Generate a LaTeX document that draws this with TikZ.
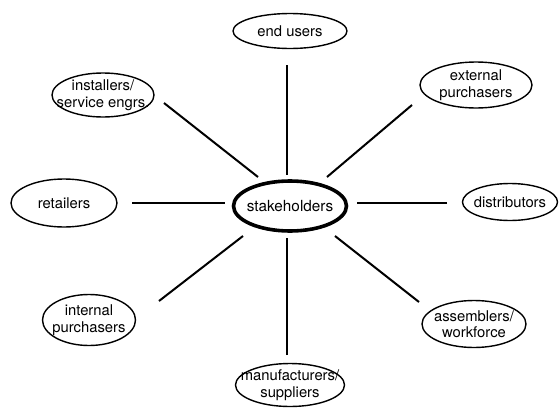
\documentclass[tikz,border=0pt]{standalone}
\usepackage{fontspec}
\setmainfont{TeX Gyre Heros}
\usetikzlibrary{shapes.geometric}
\begin{document}
\begin{tikzpicture}[x=1pt,y=-1pt,
  party/.style={ellipse,draw,line width=1.4pt,inner xsep=-40pt,inner ysep=-30pt,align=center,
    font=\fontsize{14.8}{16.5}\selectfont},
  hub/.style={ellipse,draw,line width=3.6pt,inner xsep=-40pt,inner ysep=-30pt,align=center,
    font=\fontsize{15.3}{17}\selectfont},
  link/.style={line width=2pt}]
\useasboundingbox (0,0) rectangle (560,410);
\node[hub,minimum width=113pt,minimum height=50pt] (S) at (290,206) {stakeholders};
\node[party,minimum width=114pt,minimum height=35pt] (eu) at (290,31) {end users};
\node[party,minimum width=112pt,minimum height=46pt] (ep) at (476,85) {external\\purchasers};
\node[party,minimum width=102pt,minimum height=44pt] (is) at (103,95) {installers/\\service engrs.};
\node[party,minimum width=106pt,minimum height=48pt] (rt) at (64,203) {retailers};
\node[party,minimum width=95pt,minimum height=37pt] (ds) at (510,202) {distributors};
\node[party,minimum width=93pt,minimum height=51pt] (ip) at (89,320) {internal\\purchasers};
\node[party,minimum width=104pt,minimum height=47pt] (as) at (474,324) {assemblers/\\workforce};
\node[party,minimum width=109pt,minimum height=43pt] (mf) at (290,385) {manufacturers/\\suppliers};
\draw[link] ([shift={(-3,34)}]eu.center) -- ([shift={(-3,-31)}]S.center);
\draw[link] ([shift={(-3,-30)}]mf.center) -- ([shift={(-3,32)}]S.center);
\draw[link] ([shift={(61,8)}]is.center) -- ([shift={(-32,-29)}]S.center);
\draw[link] ([shift={(-64,20)}]ep.center) -- ([shift={(37,-29)}]S.center);
\draw[link] ([shift={(70,-19)}]ip.center) -- ([shift={(-47,30)}]S.center);
\draw[link] ([shift={(-55,-22)}]as.center) -- ([shift={(45,30)}]S.center);
\draw[link] ([shift={(68,0)}]rt.center) -- ([shift={(-65,-3)}]S.center);
\draw[link] ([shift={(-63,1)}]ds.center) -- ([shift={(67,-3)}]S.center);
\end{tikzpicture}
\end{document}
